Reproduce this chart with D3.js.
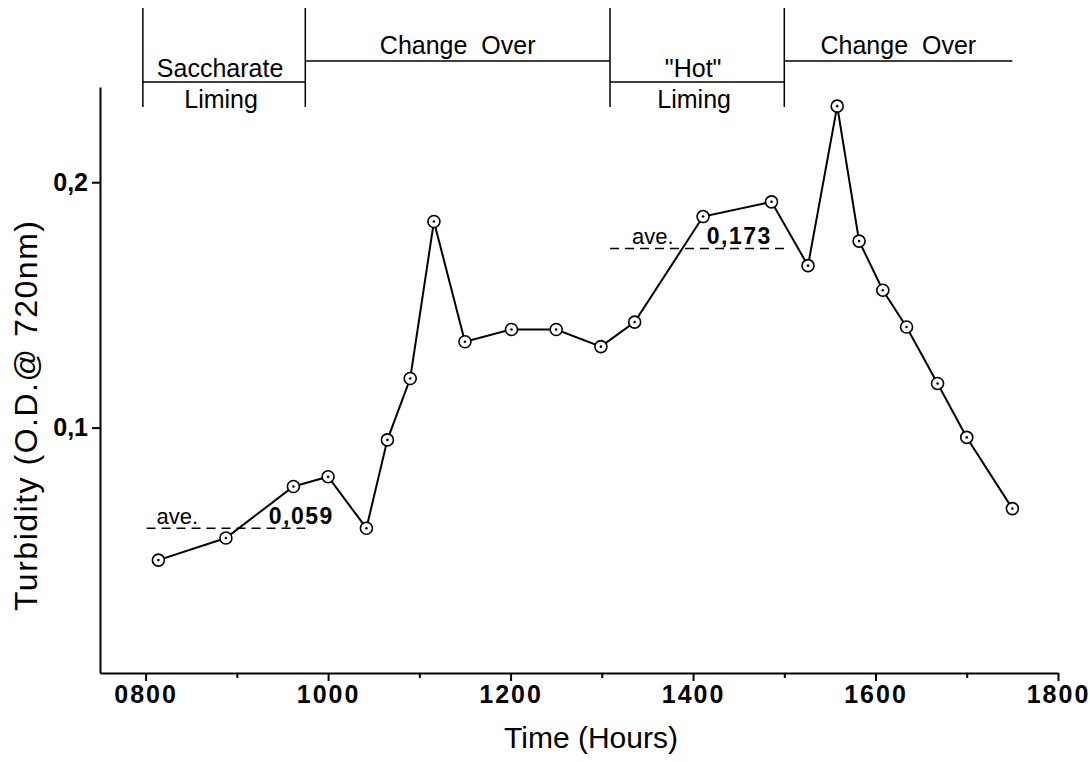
<!DOCTYPE html>
<html>
<head>
<meta charset="utf-8">
<script src="https://cdn.jsdelivr.net/npm/d3@7"></script>
<style>
  html, body { margin: 0; padding: 0; background: #fff; }
  svg { display: block; font-family: "Liberation Sans", Arial, Helvetica, sans-serif; }
</style>
</head>
<body>
<svg width="1090" height="762"></svg>
<script>
// Sampling times (clock hours, hhmm read as a number) and turbidity readings
const hours = [814, 888, 962, 1000, 1042, 1065, 1090, 1116, 1150, 1201, 1250, 1299,
               1336, 1411, 1486, 1526, 1558, 1582, 1608, 1634, 1668, 1700, 1750];
const turbidity = [0.046, 0.055, 0.076, 0.080, 0.059, 0.095, 0.120, 0.184, 0.135, 0.140, 0.140, 0.133,
                   0.143, 0.186, 0.192, 0.166, 0.231, 0.176, 0.156, 0.141, 0.118, 0.096, 0.067];

// Process phases shown above the plot
const phaseStart = [797, 975, 1309, 1500];
const phaseEnd = [975, 1309, 1500, 1750];
const phaseUpper = ["Saccharate", "Change  Over", "\"Hot\"", "Change  Over"];
const phaseLower = ["Liming", null, "Liming", null];

// Average turbidity during each liming period
const avgValue = [0.059, 0.173];
const avgLabel = ["0,059", "0,173"];
const avgFrom = [801, 1309];
const avgTo = [975, 1500];
const avgWordAt = [812, 1333];
const avgNumAt = [935, 1415];

const majorTicks = [800, 1000, 1200, 1400, 1600, 1800];
const minorTicks = [900, 1100, 1300, 1500, 1700];
const yTicks = [0.1, 0.2];

const svg = d3.select("svg");

const x = d3.scaleLinear().domain([750, 1800]).range([100, 1058]);
const y = d3.scaleLinear().domain([0, 0.2388]).range([673, 87]);

const commaLocale = d3.formatLocale({decimal: ",", thousands: ".", grouping: [3], currency: ["", ""]});

// Minor x ticks (no labels)
svg.append("g")
    .attr("transform", "translate(0,673)")
    .call(d3.axisBottom(x).tickValues(minorTicks).tickSize(5).tickFormat(""))
    .call(g => g.select(".domain").remove())
    .call(g => g.selectAll("line").attr("stroke-width", 2));

// Major x axis
const xAxis = svg.append("g")
    .attr("transform", "translate(0,673)")
    .call(d3.axisBottom(x).tickValues(majorTicks).tickSizeInner(8).tickSizeOuter(0)
        .tickPadding(4).tickFormat(d3.format("04d")));
xAxis.select(".domain").attr("stroke-width", 2);
xAxis.selectAll("line").attr("stroke-width", 2);
xAxis.selectAll("text")
    .attr("font-size", 25)
    .attr("font-weight", "bold")
    .attr("letter-spacing", "2px")
    .attr("font-family", "Liberation Sans, Arial, sans-serif")
    .attr("fill", "#000");

// y axis
const yAxis = svg.append("g")
    .attr("transform", "translate(100,0)")
    .call(d3.axisLeft(y).tickValues(yTicks).tickSizeInner(8).tickSizeOuter(0)
        .tickPadding(4).tickFormat(commaLocale.format(".1f")));
yAxis.select(".domain").attr("stroke-width", 2);
yAxis.selectAll("line").attr("stroke-width", 2);
yAxis.selectAll("text")
    .attr("font-size", 25)
    .attr("font-weight", "bold")
    .attr("font-family", "Liberation Sans, Arial, sans-serif")
    .attr("fill", "#000");

// Axis titles
svg.append("text")
    .attr("x", 591)
    .attr("y", 748)
    .attr("text-anchor", "middle")
    .attr("font-size", 30)
    .text("Time (Hours)");

svg.append("text")
    .attr("transform", "translate(37,416) rotate(-90)")
    .attr("text-anchor", "middle")
    .attr("font-size", 32)
    .attr("textLength", 390)
    .attr("lengthAdjust", "spacing")
    .text("Turbidity (O.D.@ 720nm)");

// Phase bands along the top
const phases = phaseStart.map((s, i) => ({
    start: s, end: phaseEnd[i], upper: phaseUpper[i], lower: phaseLower[i]
}));

const band = svg.append("g").attr("stroke", "#000").attr("stroke-width", 1.5);

phases.forEach(p => {
    const x0 = x(p.start), x1 = x(p.end), cx = (x0 + x1) / 2;
    if (p.lower) {
        // liming period: bracketed with a divider line, labels above and below
        band.append("line").attr("x1", x0).attr("x2", x0).attr("y1", 8).attr("y2", 107);
        band.append("line").attr("x1", x1).attr("x2", x1).attr("y1", 8).attr("y2", 107);
        band.append("line").attr("x1", x0).attr("x2", x1).attr("y1", 82).attr("y2", 82);
        svg.append("text").attr("x", cx - 4).attr("y", 77)
            .attr("text-anchor", "middle").attr("font-size", 25).text(p.upper);
        svg.append("text").attr("x", cx - 3).attr("y", 108)
            .attr("text-anchor", "middle").attr("font-size", 25).text(p.lower);
    } else {
        band.append("line").attr("x1", x0).attr("x2", x1).attr("y1", 61).attr("y2", 61);
        svg.append("text").attr("x", cx).attr("y", 54)
            .attr("text-anchor", "middle").attr("font-size", 25)
            .style("white-space", "pre").text(p.upper);
    }
});

// Average lines and labels
avgValue.forEach((v, i) => {
    svg.append("line")
        .attr("x1", x(avgFrom[i])).attr("x2", x(avgTo[i]))
        .attr("y1", y(v)).attr("y2", y(v))
        .attr("stroke", "#000").attr("stroke-width", 1.5)
        .attr("stroke-dasharray", "9,6");
    svg.append("text")
        .attr("x", x(avgWordAt[i])).attr("y", y(v) - 4)
        .attr("font-size", 22).text("ave.");
    svg.append("text")
        .attr("x", x(avgNumAt[i])).attr("y", y(v) - 4)
        .attr("font-size", 23).attr("font-weight", "bold")
        .attr("letter-spacing", "1.5px").text(avgLabel[i]);
});

// Data series
const points = hours.map((h, i) => ({h: h, v: turbidity[i]}));

svg.append("path")
    .datum(points)
    .attr("fill", "none")
    .attr("stroke", "#000")
    .attr("stroke-width", 2)
    .attr("d", d3.line().x(d => x(d.h)).y(d => y(d.v)));

const marks = svg.append("g").selectAll("g")
    .data(points)
    .join("g")
    .attr("transform", d => `translate(${x(d.h)},${y(d.v)})`);

marks.append("circle")
    .attr("r", 6)
    .attr("fill", "#fff")
    .attr("stroke", "#000")
    .attr("stroke-width", 1.6);

marks.append("circle")
    .attr("r", 1.3)
    .attr("fill", "#000");
</script>
</body>
</html>
